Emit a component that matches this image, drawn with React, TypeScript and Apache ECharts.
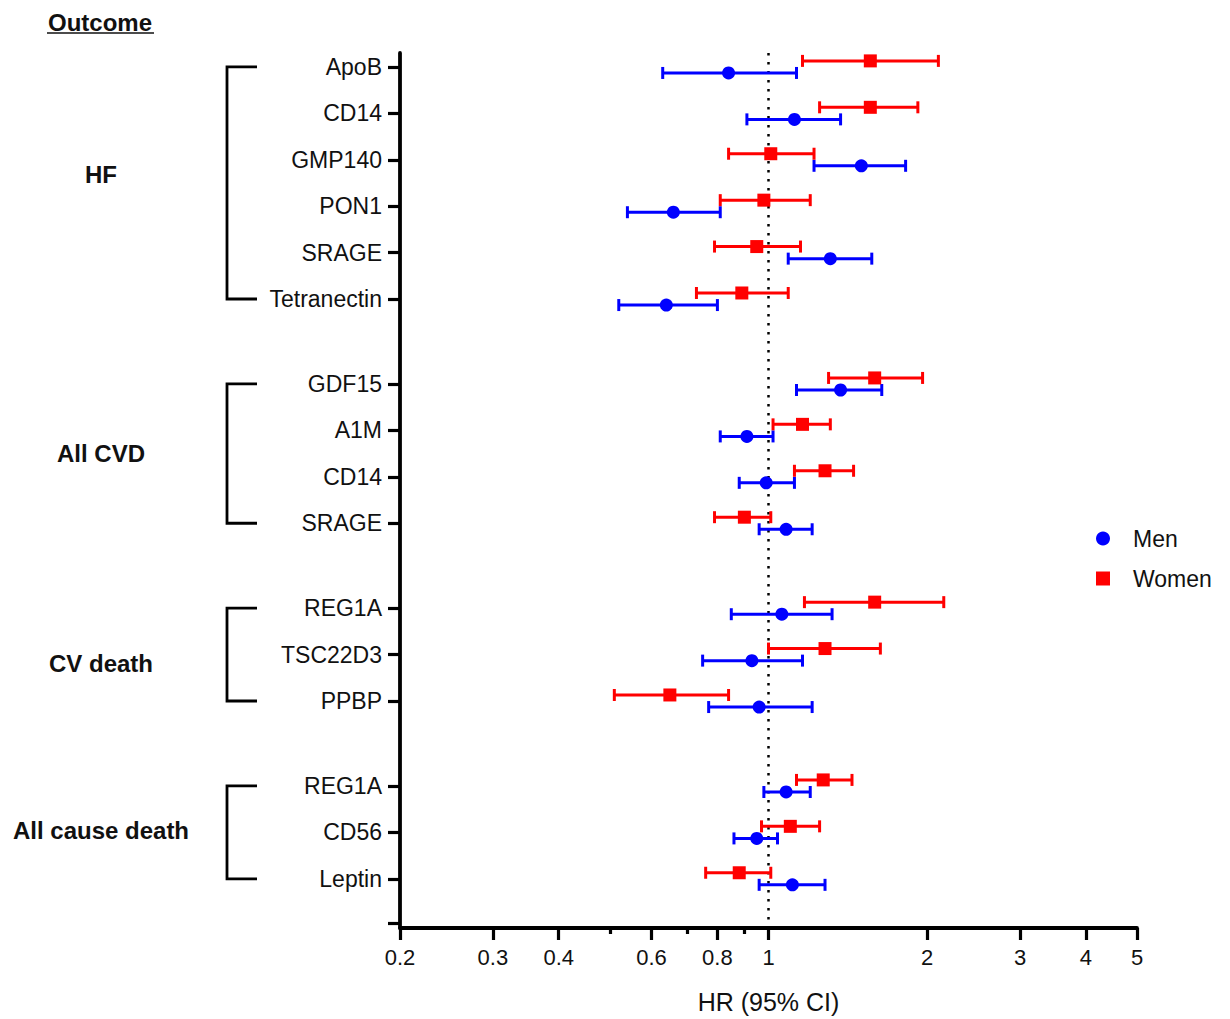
import React, { useEffect, useRef } from "react";
import * as echarts from "echarts";

// ---------- data ----------
const groups = ["HF", "All CVD", "CV death", "All cause death"];
const markers = [
  "ApoB", "CD14", "GMP140", "PON1", "SRAGE", "Tetranectin",
  "GDF15", "A1M", "CD14", "SRAGE",
  "REG1A", "TSC22D3", "PPBP",
  "REG1A", "CD56", "Leptin",
];
const markerGroup = [0, 0, 0, 0, 0, 0, 1, 1, 1, 1, 2, 2, 2, 3, 3, 3];

const menHR = [0.84, 1.12, 1.5, 0.66, 1.31, 0.64, 1.37, 0.91, 0.99, 1.08, 1.06, 0.93, 0.96, 1.08, 0.95, 1.11];
const menLo = [0.63, 0.91, 1.22, 0.54, 1.09, 0.52, 1.13, 0.81, 0.88, 0.96, 0.85, 0.75, 0.77, 0.98, 0.86, 0.96];
const menHi = [1.13, 1.37, 1.82, 0.81, 1.57, 0.8, 1.64, 1.02, 1.12, 1.21, 1.32, 1.16, 1.21, 1.2, 1.04, 1.28];

const womenHR = [1.56, 1.56, 1.01, 0.98, 0.95, 0.89, 1.59, 1.16, 1.28, 0.9, 1.59, 1.28, 0.65, 1.27, 1.1, 0.88];
const womenLo = [1.16, 1.25, 0.84, 0.81, 0.79, 0.73, 1.3, 1.02, 1.12, 0.79, 1.17, 1.0, 0.51, 1.13, 0.97, 0.76];
const womenHi = [2.1, 1.92, 1.22, 1.2, 1.15, 1.09, 1.96, 1.31, 1.45, 1.01, 2.15, 1.63, 0.84, 1.44, 1.25, 1.01];

const xTickLabels = [0.2, 0.3, 0.4, 0.6, 0.8, 1, 2, 3, 4, 5];
const xMinorTicks = [0.5, 0.7, 0.9];
const xMin = 0.2;
const xMax = 5;
const referenceHR = 1;

// ---------- layout constants ----------
const GROUP_EXTRA = 0.83; // extra row spacing between groups
const SEX_OFFSET = 0.13; // vertical offset of men/women within a row
const FONT = "'Liberation Sans', Arial, sans-serif";
const groupLabelShiftPx = [-8, 0, 9, -2];
const BLUE = "#0000FF";
const RED = "#FF0000";

const rowPos = markers.map((_, i) => +(i + markerGroup[i] * GROUP_EXTRA).toFixed(4));
const bottomTickPos = +(rowPos[rowPos.length - 1] + 0.96).toFixed(4);
const yTickPositions = [...rowPos, bottomTickPos];

const lg = (v: number) => Math.log10(v);

function labelForPos(v: number): string {
  for (let i = 0; i < rowPos.length; i++) {
    if (Math.abs(rowPos[i] - v) < 1e-6) return markers[i];
  }
  return "";
}

function errorBarRenderer(color: string) {
  return (params: any, api: any) => {
    const y = api.value(2);
    const p1 = api.coord([api.value(0), y]);
    const p2 = api.coord([api.value(1), y]);
    const h = 6;
    const style = { stroke: color, lineWidth: 3 };
    return {
      type: "group",
      children: [
        { type: "line", shape: { x1: p1[0], y1: p1[1], x2: p2[0], y2: p2[1] }, style },
        { type: "line", shape: { x1: p1[0], y1: p1[1] - h, x2: p1[0], y2: p1[1] + h }, style },
        { type: "line", shape: { x1: p2[0], y1: p2[1] - h, x2: p2[0], y2: p2[1] + h }, style },
      ],
    };
  };
}

export default function App() {
  const ref = useRef<HTMLDivElement>(null);

  useEffect(() => {
    document.body.style.margin = "0";
    if (!ref.current) return;
    const chart = echarts.init(ref.current, undefined, { renderer: "svg" });

    const menBars = menHR.map((_, i) => [lg(menLo[i]), lg(menHi[i]), rowPos[i] + SEX_OFFSET]);
    const womenBars = womenHR.map((_, i) => [lg(womenLo[i]), lg(womenHi[i]), rowPos[i] - SEX_OFFSET]);
    const menPts = menHR.map((v, i) => [lg(v), rowPos[i] + SEX_OFFSET]);
    const womenPts = womenHR.map((v, i) => [lg(v), rowPos[i] - SEX_OFFSET]);

    const option: any = {
      animation: false,
      backgroundColor: "#ffffff",
      textStyle: { fontFamily: FONT },
      grid: { left: 400, right: 93, top: 53, bottom: 88, containLabel: false },
      legend: {
        orient: "vertical",
        left: 1091,
        top: 522,
        itemWidth: 14,
        itemHeight: 14,
        itemGap: 17,
        selectedMode: false,
        textStyle: { fontSize: 23, color: "#111", fontFamily: FONT, padding: [0, 0, 0, 18] },
        data: [
          { name: "Men", icon: "circle" },
          { name: "Women", icon: "rect" },
        ],
      },
      xAxis: [
        {
          type: "value",
          min: lg(xMin),
          max: lg(xMax),
          position: "bottom",
          name: "HR (95% CI)",
          nameLocation: "middle",
          nameGap: 61,
          nameTextStyle: { fontSize: 25, color: "#111", fontFamily: FONT },
          axisLine: { show: true, onZero: false, lineStyle: { color: "#000", width: 3.8 } },
          axisTick: {
            show: true,
            length: 12,
            lineStyle: { color: "#000", width: 3.2 },
            customValues: xTickLabels.map(lg),
          },
          axisLabel: {
            show: true,
            fontSize: 22,
            color: "#111",
            margin: 18,
            fontFamily: FONT,
            customValues: xTickLabels.map(lg),
            formatter: (v: number) => String(Math.round(Math.pow(10, v) * 10) / 10),
          },
          splitLine: { show: false },
        },
        {
          type: "value",
          min: lg(xMin),
          max: lg(xMax),
          position: "bottom",
          axisLine: { show: false, onZero: false },
          axisTick: {
            show: true,
            length: 6,
            lineStyle: { color: "#000", width: 3.2 },
            customValues: xMinorTicks.map(lg),
          },
          axisLabel: { show: false },
          splitLine: { show: false },
        },
      ],
      yAxis: {
        type: "value",
        inverse: true,
        min: -0.3,
        max: 18.55,
        axisLine: { show: true, onZero: false, lineStyle: { color: "#000", width: 3.8 } },
        axisTick: {
          show: true,
          length: 12,
          lineStyle: { color: "#000", width: 3.2 },
          customValues: yTickPositions,
        },
        axisLabel: {
          show: true,
          fontSize: 23,
          color: "#111",
          margin: 18,
          fontFamily: FONT,
          customValues: rowPos,
          formatter: (v: number) => labelForPos(v),
        },
        splitLine: { show: false },
      },
      series: [
        {
          name: "Men CI",
          type: "custom",
          xAxisIndex: 0,
          renderItem: errorBarRenderer(BLUE),
          encode: { x: [0, 1], y: 2 },
          data: menBars,
          z: 2,
        },
        {
          name: "Men",
          type: "scatter",
          xAxisIndex: 0,
          symbol: "circle",
          symbolSize: 13,
          itemStyle: { color: BLUE, opacity: 1 },
          data: menPts,
          z: 3,
          markLine: {
            silent: true,
            symbol: "none",
            label: { show: false },
            lineStyle: { color: "#000", type: [2.5, 6.5], width: 2.5, opacity: 1 },
            data: [{ xAxis: lg(referenceHR) }],
            z: 1,
          },
        },
        {
          name: "Women CI",
          type: "custom",
          xAxisIndex: 0,
          renderItem: errorBarRenderer(RED),
          encode: { x: [0, 1], y: 2 },
          data: womenBars,
          z: 4,
        },
        {
          name: "Women",
          type: "scatter",
          xAxisIndex: 0,
          symbol: "rect",
          symbolSize: 13,
          itemStyle: { color: RED, opacity: 1 },
          data: womenPts,
          z: 5,
        },
      ],
    };

    chart.setOption(option);

    // group brackets and labels positioned through the y axis scale
    const toY = (v: number) => chart.convertToPixel({ yAxisIndex: 0 }, v) as number;
    const graphics: any[] = [];
    groups.forEach((g, gi) => {
      const idx = markerGroup.map((m, i) => (m === gi ? i : -1)).filter((i) => i >= 0);
      const yTop = toY(rowPos[idx[0]]);
      const yBot = toY(rowPos[idx[idx.length - 1]]);
      graphics.push({
        type: "polyline",
        shape: { points: [[257, yTop], [227, yTop], [227, yBot], [257, yBot]] },
        style: { stroke: "#000", lineWidth: 2.8, fill: "none" },
      });
      graphics.push({
        type: "text",
        x: 101,
        y: (yTop + yBot) / 2 + groupLabelShiftPx[gi],
        style: {
          text: g,
          fontSize: 24,
          fontWeight: "bold",
          fontFamily: FONT,
          fill: "#111",
          align: "center",
          verticalAlign: "middle",
        },
      });
    });
    graphics.push({
      type: "text",
      x: 100,
      y: 22,
      style: {
        text: "Outcome",
        fontSize: 24,
        fontWeight: "bold",
        fontFamily: FONT,
        fill: "#111",
        align: "center",
        verticalAlign: "middle",
      },
    });
    graphics.push({
      type: "line",
      shape: { x1: 47, y1: 33, x2: 154, y2: 33 },
      style: { stroke: "#111", lineWidth: 1.6 },
    });
    chart.setOption({ graphic: graphics });

    return () => chart.dispose();
  }, []);

  return <div ref={ref} style={{ width: 1230, height: 1019 }} />;
}
